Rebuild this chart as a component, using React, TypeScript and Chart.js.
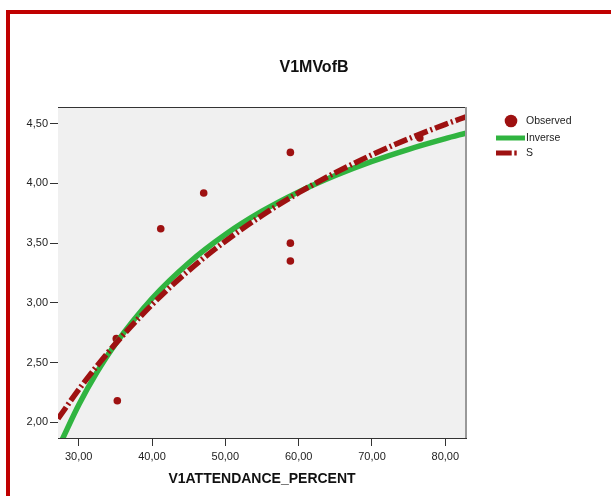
import React, { useEffect, useRef } from 'react';
import { Chart, registerables } from 'chart.js';

Chart.register(...registerables);

const chartTitle = 'V1MVofB';
const xAxisTitle = 'V1ATTENDANCE_PERCENT';

const observedX = [35.27, 35.13, 41.19, 47.05, 58.87, 58.87, 58.87, 76.52];
const observedY = [2.18, 2.7, 3.62, 3.92, 4.26, 3.5, 3.35, 4.38];

const inverseX = [27.7, 30, 32.5, 35, 40, 45, 50, 55, 60, 65, 70, 75, 80, 82.82];
const inverseY = [1.848, 2.144, 2.419, 2.654, 3.036, 3.334, 3.572, 3.767, 3.929, 4.066, 4.184, 4.286, 4.375, 4.421];

const sX = [27.18, 30, 32.5, 35, 40, 45, 50, 55, 60, 65, 70, 75, 80, 82.82];
const sY = [2.029, 2.273, 2.472, 2.656, 2.985, 3.27, 3.516, 3.732, 3.922, 4.09, 4.24, 4.374, 4.495, 4.558];

const xTickValues = [30, 40, 50, 60, 70, 80];
const xTickLabels = ['30,00', '40,00', '50,00', '60,00', '70,00', '80,00'];
const yTickValues = [2, 2.5, 3, 3.5, 4, 4.5];
const yTickLabels = ['2,00', '2,50', '3,00', '3,50', '4,00', '4,50'];

const legendLabels = ['Observed', 'Inverse', 'S'];

const X_MIN = 27.18;
const X_MAX = 82.82;
const Y_MIN = 1.868;
const Y_MAX = 4.64;

const RED = '#9e1111';
const GREEN = '#30b440';
const FONT = '"Liberation Sans", Arial, sans-serif';

const decorPlugin = {
  id: 'decor',
  beforeDatasetsDraw(chart: any) {
    const { ctx, chartArea: a } = chart;
    ctx.save();
    ctx.fillStyle = '#f0f0f0';
    ctx.fillRect(a.left, a.top, a.right - a.left, a.bottom - a.top);
    ctx.restore();
  },
  afterDraw(chart: any) {
    const { ctx, chartArea: a } = chart;
    ctx.save();
    ctx.lineWidth = 1;
    ctx.strokeStyle = '#333';
    ctx.beginPath();
    ctx.moveTo(a.left, a.top + 0.5);
    ctx.lineTo(a.right, a.top + 0.5);
    ctx.stroke();
    ctx.strokeStyle = '#999';
    ctx.lineWidth = 2;
    ctx.beginPath();
    ctx.moveTo(a.right, a.top);
    ctx.lineTo(a.right, a.bottom);
    ctx.stroke();

    ctx.fillStyle = '#111';
    ctx.font = 'bold 16px ' + FONT;
    ctx.textAlign = 'center';
    ctx.textBaseline = 'middle';
    ctx.fillText(chartTitle, 314, 68);

    ctx.fillStyle = RED;
    ctx.beginPath();
    ctx.arc(511, 121, 6.3, 0, Math.PI * 2);
    ctx.fill();

    ctx.lineCap = 'butt';
    ctx.strokeStyle = GREEN;
    ctx.lineWidth = 5;
    ctx.beginPath();
    ctx.moveTo(496, 138);
    ctx.lineTo(525, 138);
    ctx.stroke();

    ctx.strokeStyle = RED;
    ctx.setLineDash([15.7, 2.6, 2.4, 100]);
    ctx.beginPath();
    ctx.moveTo(496, 153);
    ctx.lineTo(517, 153);
    ctx.stroke();
    ctx.setLineDash([]);

    ctx.fillStyle = '#222';
    ctx.font = '10.5px ' + FONT;
    ctx.textAlign = 'left';
    ctx.textBaseline = 'middle';
    ctx.fillText(legendLabels[0], 526, 121);
    ctx.fillText(legendLabels[1], 526, 138);
    ctx.fillText(legendLabels[2], 526, 153);
    ctx.restore();
  },
};

export default function App() {
  const ref = useRef<HTMLCanvasElement>(null);

  useEffect(() => {
    if (!ref.current) return;
    const chart = new Chart(ref.current, {
      type: 'scatter',
      data: {
        datasets: [
          {
            label: 'S',
            data: sX.map((x, i) => ({ x, y: sY[i] })),
            showLine: true,
            borderColor: RED,
            borderWidth: 5.5,
            borderDash: [14, 3, 2, 3],
            borderCapStyle: 'butt',
            pointRadius: 0,
            cubicInterpolationMode: 'monotone',
            order: 0,
          } as any,
          {
            label: 'Inverse',
            data: inverseX.map((x, i) => ({ x, y: inverseY[i] })),
            showLine: true,
            borderColor: GREEN,
            borderWidth: 5.5,
            pointRadius: 0,
            cubicInterpolationMode: 'monotone',
            order: 1,
          } as any,
          {
            label: 'Observed',
            data: observedX.map((x, i) => ({ x, y: observedY[i] })),
            showLine: false,
            pointRadius: 3.8,
            pointBackgroundColor: RED,
            pointBorderWidth: 0,
            borderColor: RED,
            order: 2,
          } as any,
        ],
      },
      options: {
        responsive: false,
        animation: false,
        layout: { padding: { top: 107, right: 145, left: 0, bottom: 0 } },
        plugins: {
          legend: { display: false },
          title: { display: false },
          tooltip: { enabled: false },
        },
        scales: {
          x: {
            type: 'linear',
            min: X_MIN,
            max: X_MAX,
            afterBuildTicks: (s: any) => {
              s.ticks = xTickValues.map((value) => ({ value }));
            },
            afterFit: (s: any) => {
              s.height = 58;
            },
            grid: { drawOnChartArea: false, drawTicks: true, tickLength: 8, color: '#333' },
            border: { display: true, color: '#333', width: 1 },
            ticks: {
              padding: 4,
              color: '#222',
              font: { family: FONT, size: 11 },
              maxRotation: 0,
              autoSkip: false,
              callback: (v: any) => xTickLabels[xTickValues.indexOf(v)] ?? '',
            },
            title: {
              display: true,
              text: xAxisTitle,
              color: '#111',
              font: { family: FONT, size: 14, weight: 'bold' },
              padding: { top: 0, bottom: 8 },
            },
          },
          y: {
            type: 'linear',
            min: Y_MIN,
            max: Y_MAX,
            afterBuildTicks: (s: any) => {
              s.ticks = yTickValues.map((value) => ({ value }));
            },
            afterFit: (s: any) => {
              s.width = 58;
            },
            grid: { drawOnChartArea: false, drawTicks: true, tickLength: 8, color: '#333' },
            border: { display: true, color: '#333', width: 1 },
            ticks: {
              padding: 2,
              color: '#222',
              font: { family: FONT, size: 11 },
              autoSkip: false,
              callback: (v: any) => yTickLabels[yTickValues.indexOf(v)] ?? '',
            },
          },
        },
      },
      plugins: [decorPlugin],
    });
    return () => chart.destroy();
  }, []);

  return (
    <div style={{ position: 'fixed', left: 0, top: 0, width: 611, height: 496, background: '#fff' }}>
      <canvas ref={ref} width={611} height={496} style={{ position: 'absolute', left: 0, top: 0 }} />
      <div
        style={{
          position: 'absolute',
          left: 6,
          top: 10,
          width: 605,
          height: 486,
          borderLeft: '4px solid #c00000',
          borderTop: '4px solid #c00000',
          boxSizing: 'border-box',
          pointerEvents: 'none',
        }}
      />
    </div>
  );
}
